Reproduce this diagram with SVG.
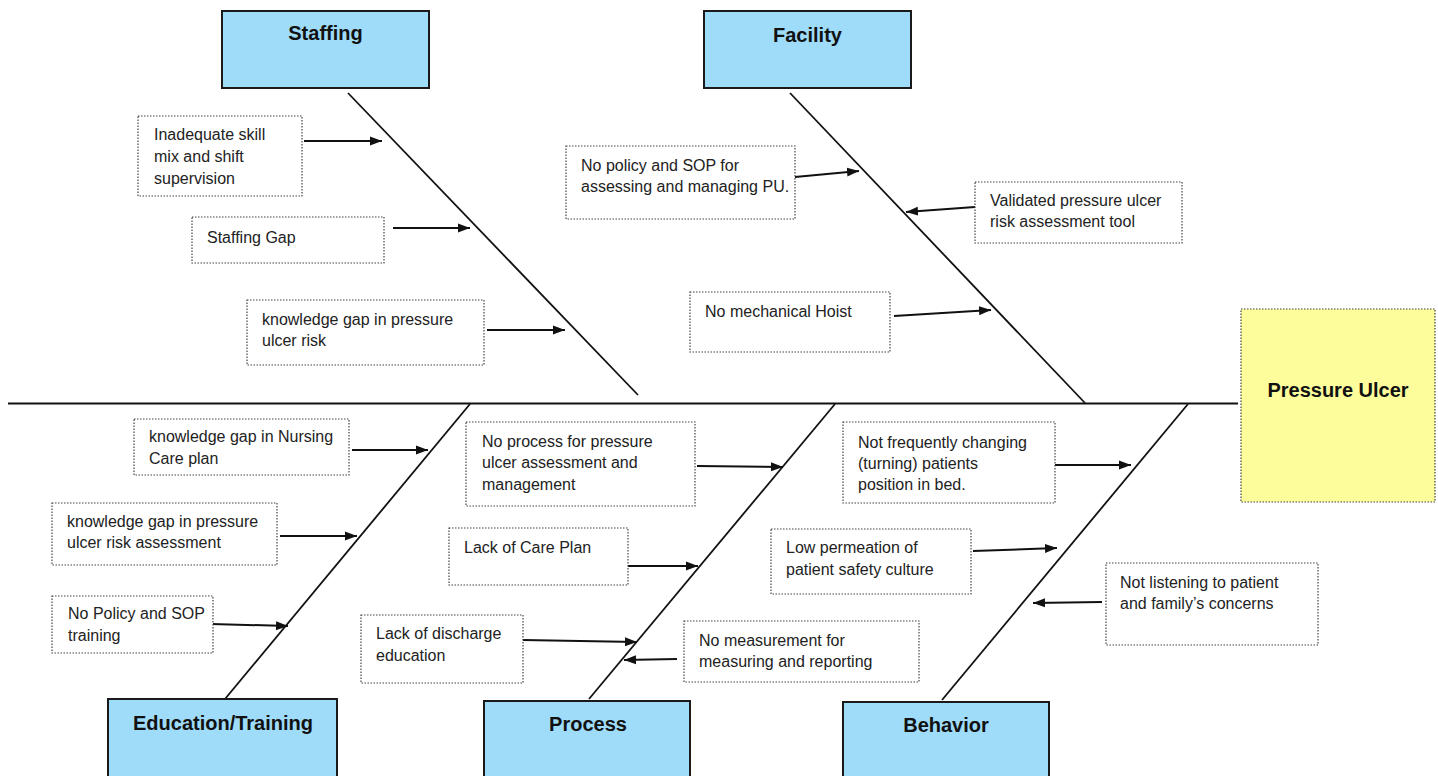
<svg xmlns="http://www.w3.org/2000/svg" width="1438" height="776" viewBox="0 0 1438 776">
<style>
.cat{fill:#9fdcfa;stroke:#1a1a1a;stroke-width:2}
.ttl{font-family:"Liberation Sans",Arial,sans-serif;font-weight:bold;font-size:20px;fill:#111;text-anchor:middle}
.box{fill:#fff;stroke:#444;stroke-width:1.2;stroke-dasharray:1.5 1.5}
.eff{fill:#fdfd9b;stroke:#444;stroke-width:1.2;stroke-dasharray:1.5 1.5}
.t{font-family:"Liberation Sans",Arial,sans-serif;font-size:16px;fill:#222}
.bone{stroke:#111;stroke-width:1.8;fill:none}
.arr{stroke:#111;stroke-width:2;fill:none;marker-end:url(#ah)}
</style>
<defs>
<marker id="ah" markerUnits="userSpaceOnUse" markerWidth="13" markerHeight="10" refX="12" refY="5" orient="auto">
<path d="M0,0.5 L12,5 L0,9.5 z" fill="#111"/>
</marker>
</defs>
<rect width="1438" height="776" fill="#fff"/>
<g id="connectors">
<line class="bone" x1="8" y1="403.5" x2="1238" y2="403.5" stroke-width="2"/>
<line class="bone" x1="348" y1="93" x2="638" y2="395"/>
<line class="bone" x1="790" y1="93" x2="1085" y2="403"/>
<line class="bone" x1="470" y1="404" x2="225" y2="699"/>
<line class="bone" x1="835" y1="404" x2="589" y2="699"/>
<line class="bone" x1="1188" y1="404" x2="942" y2="700"/>
<line class="arr" x1="304" y1="141" x2="382" y2="141"/>
<line class="arr" x1="393" y1="228" x2="470" y2="228"/>
<line class="arr" x1="487" y1="330" x2="565" y2="330"/>
<line class="arr" x1="795" y1="177" x2="859" y2="171"/>
<line class="arr" x1="975" y1="207" x2="906" y2="212"/>
<line class="arr" x1="894" y1="316" x2="991" y2="310"/>
<line class="arr" x1="352" y1="450" x2="428" y2="450"/>
<line class="arr" x1="280" y1="536" x2="357" y2="536"/>
<line class="arr" x1="211" y1="624" x2="288" y2="626"/>
<line class="arr" x1="697" y1="466" x2="783" y2="467"/>
<line class="arr" x1="628" y1="566" x2="698" y2="566"/>
<line class="arr" x1="523" y1="640" x2="637" y2="642"/>
<line class="arr" x1="677" y1="659" x2="624" y2="660"/>
<line class="arr" x1="1054" y1="465" x2="1131" y2="465"/>
<line class="arr" x1="973" y1="551" x2="1057" y2="548"/>
<line class="arr" x1="1102" y1="602" x2="1033" y2="603"/>
</g>
<g id="staffing"><rect class="cat" x="222" y="11" width="207" height="77"/><text class="ttl" x="325.5" y="40">Staffing</text></g>
<g id="facility"><rect class="cat" x="704" y="11" width="207" height="77"/><text class="ttl" x="807.5" y="42">Facility</text></g>
<g id="education"><rect class="cat" x="108" y="699" width="229" height="82"/><text class="ttl" x="223" y="730">Education/Training</text></g>
<g id="process"><rect class="cat" x="484" y="701" width="206" height="80"/><text class="ttl" x="588" y="731">Process</text></g>
<g id="behavior"><rect class="cat" x="843" y="702" width="206" height="79"/><text class="ttl" x="946" y="732">Behavior</text></g>
<g id="effect"><rect class="eff" x="1241" y="309" width="194" height="193"/><text class="ttl" x="1338" y="397">Pressure Ulcer</text></g>
<g id="c-skillmix"><rect class="box" x="138" y="116" width="164" height="80"/><text class="t" x="154"><tspan x="154" y="140">Inadequate skill</tspan><tspan x="154" y="162">mix and shift</tspan><tspan x="154" y="184">supervision</tspan></text></g>
<g id="c-staffgap"><rect class="box" x="192" y="217" width="192" height="46"/><text class="t" x="207" y="243">Staffing Gap</text></g>
<g id="c-kgrisk"><rect class="box" x="247" y="300" width="237" height="65"/><text class="t"><tspan x="262" y="325">knowledge gap in pressure</tspan><tspan x="262" y="346">ulcer risk</tspan></text></g>
<g id="c-policy"><rect class="box" x="566" y="146" width="229" height="73"/><text class="t"><tspan x="581" y="171">No policy and SOP for</tspan><tspan x="581" y="192">assessing and managing PU.</tspan></text></g>
<g id="c-validated"><rect class="box" x="975" y="182" width="207" height="61"/><text class="t"><tspan x="990" y="206">Validated pressure ulcer</tspan><tspan x="990" y="227">risk assessment tool</tspan></text></g>
<g id="c-hoist"><rect class="box" x="690" y="292" width="200" height="60"/><text class="t" x="705" y="317">No mechanical Hoist</text></g>
<g id="c-kgnursing"><rect class="box" x="134" y="419" width="215" height="56"/><text class="t"><tspan x="149" y="442">knowledge gap in Nursing</tspan><tspan x="149" y="464">Care plan</tspan></text></g>
<g id="c-kgassess"><rect class="box" x="52" y="503" width="225" height="62"/><text class="t"><tspan x="67" y="527">knowledge gap in pressure</tspan><tspan x="67" y="548">ulcer risk assessment</tspan></text></g>
<g id="c-soptrain"><rect class="box" x="52" y="596" width="161" height="57"/><text class="t"><tspan x="68" y="619">No Policy and SOP</tspan><tspan x="68" y="641">training</tspan></text></g>
<g id="c-noprocess"><rect class="box" x="466" y="422" width="229" height="84"/><text class="t"><tspan x="482" y="447">No process for pressure</tspan><tspan x="482" y="468">ulcer assessment and</tspan><tspan x="482" y="490">management</tspan></text></g>
<g id="c-careplan"><rect class="box" x="449" y="528" width="179" height="57"/><text class="t" x="464" y="553">Lack of Care Plan</text></g>
<g id="c-discharge"><rect class="box" x="361" y="615" width="162" height="68"/><text class="t"><tspan x="376" y="639">Lack of discharge</tspan><tspan x="376" y="661">education</tspan></text></g>
<g id="c-measure"><rect class="box" x="684" y="621" width="235" height="61"/><text class="t"><tspan x="699" y="646">No measurement for</tspan><tspan x="699" y="667">measuring and reporting</tspan></text></g>
<g id="c-turning"><rect class="box" x="843" y="422" width="212" height="81"/><text class="t"><tspan x="858" y="448">Not frequently changing</tspan><tspan x="858" y="469">(turning) patients</tspan><tspan x="858" y="490">position in bed.</tspan></text></g>
<g id="c-culture"><rect class="box" x="771" y="529" width="200" height="65"/><text class="t"><tspan x="786" y="553">Low permeation of</tspan><tspan x="786" y="575">patient safety culture</tspan></text></g>
<g id="c-listening"><rect class="box" x="1106" y="563" width="212" height="82"/><text class="t"><tspan x="1120" y="588">Not listening to patient</tspan><tspan x="1120" y="609">and family’s concerns</tspan></text></g>
</svg>
